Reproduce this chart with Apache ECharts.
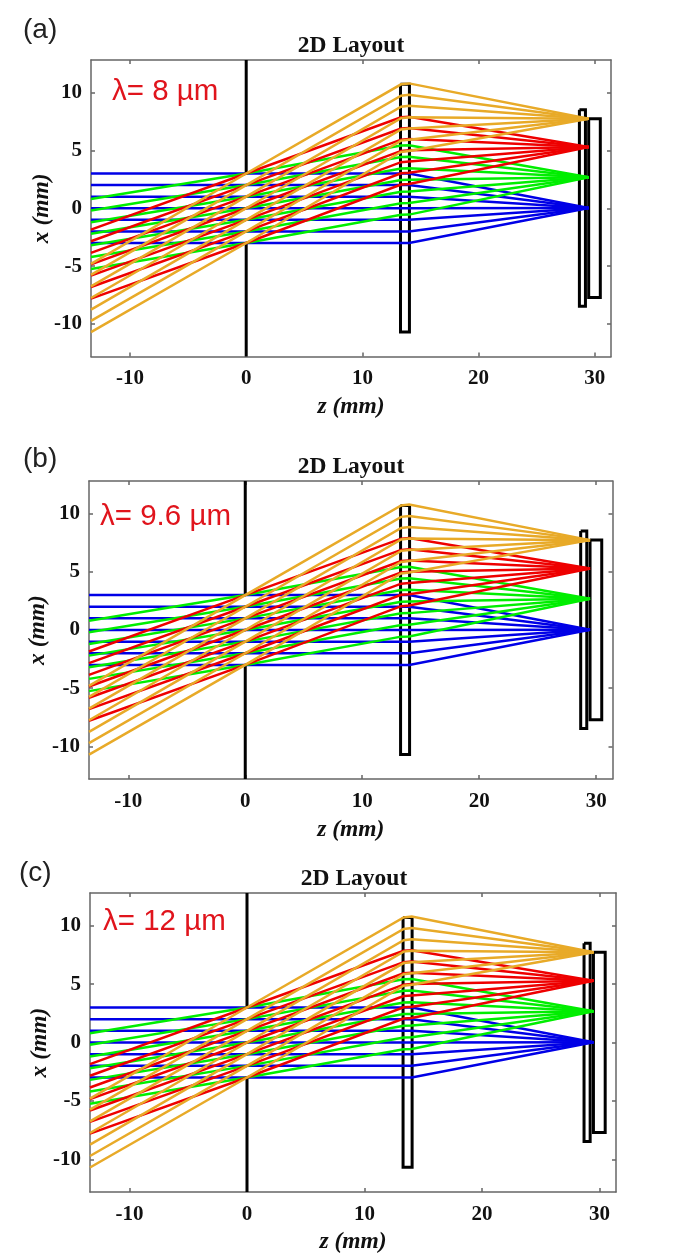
<!DOCTYPE html>
<html>
<head>
<meta charset="utf-8">
<style>html,body{margin:0;padding:0;background:#fff}#c{width:681px;height:1253px}</style>
<script src="https://cdn.jsdelivr.net/npm/echarts@6/dist/echarts.min.js"></script>
</head>
<body>
<div id="c"></div>
<script>
// axis ticks
const zTicks = [-10, 0, 10, 20, 30];
const xTicks = [-10, -5, 0, 5, 10];
const zRange = [-13.36, 31.4];
const xRange = [-12.8, 12.8];

// ray stations along z (mm): entry edge, stop, lens front, lens back, focus
const zStations = [-13.36, 0, 13.33, 14.02, 29.48];

// ray heights x (mm) at each station
const raysBlue = [
  [3, 3, 3, 3, 0.02],
  [2, 2, 2, 2, 0.02],
  [1, 1, 1, 1, 0.02],
  [0, 0, 0, 0, 0.02],
  [-1, -1, -1, -1, 0.02],
  [-2, -2, -2, -2, 0.02],
  [-3, -3, -3, -3, 0.02]
];
const raysGreen = [
  [0.8, 3, 5.42, 5.44, 2.68],
  [-0.2, 2, 4.43, 4.45, 2.68],
  [-1.2, 1, 3.43, 3.45, 2.68],
  [-2.2, 0, 2.43, 2.45, 2.68],
  [-3.2, -1, 1.43, 1.45, 2.68],
  [-4.2, -2, 0.43, 0.45, 2.68],
  [-5.25, -3, -0.57, -0.55, 2.68]
];
const raysRed = [
  [-1.85, 3, 7.85, 7.9, 5.28],
  [-2.85, 2, 6.88, 6.93, 5.28],
  [-3.85, 1, 5.92, 5.97, 5.28],
  [-4.85, 0, 4.95, 5.0, 5.28],
  [-5.82, -1, 3.98, 4.03, 5.28],
  [-6.8, -2, 3.02, 3.07, 5.28],
  [-7.8, -3, 2.05, 2.1, 5.28]
];
const raysYellow = [
  [-4.8, 3, 10.7, 10.78, 7.72],
  [-5.75, 2, 9.72, 9.8, 7.72],
  [-6.75, 1, 8.76, 8.84, 7.72],
  [-7.75, 0, 7.78, 7.86, 7.72],
  [-8.75, -1, 6.8, 6.88, 7.72],
  [-9.72, -2, 5.84, 5.92, 7.72],
  [-10.7, -3, 4.86, 4.94, 7.72]
];

// optical elements: closed outlines [z, x]
const lensOutline = [[13.28, 10.7], [14.05, 10.7], [14.05, -10.69], [13.28, -10.69], [13.28, 10.7]];
const window1Outline = [[28.68, 8.5], [29.2, 8.5], [29.2, -8.47], [28.68, -8.47], [28.68, 8.5]];
const window2Outline = [[29.48, 7.73], [30.48, 7.73], [30.48, -7.7], [29.48, -7.7], [29.48, 7.73]];
const stopUpper = [[0, 3], [0, 12.8]];
const stopLower = [[0, -3], [0, -12.8]];

// panel text
const panelTags = ['(a)', '(b)', '(c)'];
const wavelengthLabels = ['λ= 8 µm', 'λ= 9.6 µm', 'λ= 12 µm'];
const panelTitle = '2D Layout';
const zName = 'z (mm)';
const xName = 'x (mm)';

// panel placement (px)
const panels = [
  {l: 91, r: 611, t: 60, b: 356.5, tagX: 23, tagY: 40, lamX: 112, lamY: 101, titleX: 351, titleY: 58, zNameY: 418, xNameX: 42},
  {l: 89, r: 612.5, t: 481, b: 779, tagX: 23, tagY: 469, lamX: 100, lamY: 526, titleX: 351, titleY: 479, zNameY: 841, xNameX: 38},
  {l: 90, r: 616, t: 893, b: 1192, tagX: 19, tagY: 883, lamX: 103, lamY: 931, titleX: 354, titleY: 891, zNameY: 1253, xNameX: 40}
];

const colors = {blue: '#0000e6', green: '#00ee00', red: '#ee0000', yellow: '#e8aa28', frame: '#666666', ink: '#111111', lam: '#e0141c'};
const serif = '"Liberation Serif", serif';
const sans = '"Liberation Sans", sans-serif';

const grid = [], xAxis = [], yAxis = [], series = [], graphic = [];

function addLine(i, data, color, width) {
  series.push({
    type: 'line', xAxisIndex: i * 2, yAxisIndex: i * 2, data: data,
    showSymbol: false, symbol: 'none', silent: true, animation: false,
    lineStyle: {color: color, width: width, cap: 'butt', join: 'miter'}
  });
}

panels.forEach((p, i) => {
  grid.push({left: p.l, top: p.t, width: p.r - p.l, height: p.b - p.t, containLabel: false});
  const ax = {color: colors.frame, width: 1.5};
  const labelStyle = {fontFamily: serif, fontWeight: 'bold', fontSize: 21, color: colors.ink};
  xAxis.push({
    type: 'value', gridIndex: i, min: zRange[0], max: zRange[1], position: 'bottom', splitLine: {show: false},
    axisLine: {show: true, onZero: false, lineStyle: ax},
    axisTick: {show: true, inside: true, length: 4, lineStyle: ax, customValues: zTicks},
    axisLabel: Object.assign({show: true, margin: 12, customValues: zTicks}, labelStyle)
  }, {
    type: 'value', gridIndex: i, min: zRange[0], max: zRange[1], position: 'top', splitLine: {show: false},
    axisLine: {show: true, onZero: false, lineStyle: ax},
    axisTick: {show: true, inside: true, length: 4, lineStyle: ax, customValues: zTicks},
    axisLabel: {show: false}
  });
  yAxis.push({
    type: 'value', gridIndex: i, min: xRange[0], max: xRange[1], position: 'left', splitLine: {show: false},
    axisLine: {show: true, onZero: false, lineStyle: ax},
    axisTick: {show: true, inside: true, length: 4, lineStyle: ax, customValues: xTicks},
    axisLabel: Object.assign({show: true, margin: 9, customValues: xTicks}, labelStyle)
  }, {
    type: 'value', gridIndex: i, min: xRange[0], max: xRange[1], position: 'right', splitLine: {show: false},
    axisLine: {show: true, onZero: false, lineStyle: ax},
    axisTick: {show: true, inside: true, length: 4, lineStyle: ax, customValues: xTicks},
    axisLabel: {show: false}
  });

  // optics below rays
  addLine(i, lensOutline, '#000000', 3);
  addLine(i, window1Outline, '#000000', 3);
  addLine(i, window2Outline, '#000000', 3);
  addLine(i, stopUpper, '#000000', 3);
  addLine(i, stopLower, '#000000', 3);

  // rays: blue lowest, yellow on top
  [[raysBlue, colors.blue], [raysGreen, colors.green], [raysRed, colors.red], [raysYellow, colors.yellow]].forEach(([rows, col]) => {
    rows.forEach(row => addLine(i, row.map((x, k) => [zStations[k], x]), col, 2.5));
  });

  const mid = (p.l + p.r) / 2;
  graphic.push(
    {type: 'text', left: p.tagX, top: p.tagY - 24, style: {text: panelTags[i], font: '28px ' + sans, fill: '#222222'}},
    {type: 'text', left: p.lamX, top: p.lamY - 24, style: {text: wavelengthLabels[i], font: '29.5px ' + sans, fill: colors.lam}},
    {type: 'text', x: p.titleX, y: p.titleY, style: {text: panelTitle, font: 'bold 23.5px ' + serif, fill: colors.ink, align: 'center', verticalAlign: 'bottom'}},
    {type: 'text', x: mid, y: p.zNameY, style: {text: zName, font: 'italic bold 23.5px ' + serif, fill: colors.ink, align: 'center', verticalAlign: 'bottom'}},
    {type: 'text', x: p.xNameX, y: (p.t + p.b) / 2, rotation: Math.PI / 2, style: {text: xName, font: 'italic bold 23.5px ' + serif, fill: colors.ink, align: 'center', verticalAlign: 'middle'}}
  );
});

const chart = echarts.init(document.getElementById('c'), null, {renderer: 'canvas', width: 681, height: 1253});
chart.setOption({animation: false, backgroundColor: '#ffffff', grid, xAxis, yAxis, series, graphic});
</script>
</body>
</html>
